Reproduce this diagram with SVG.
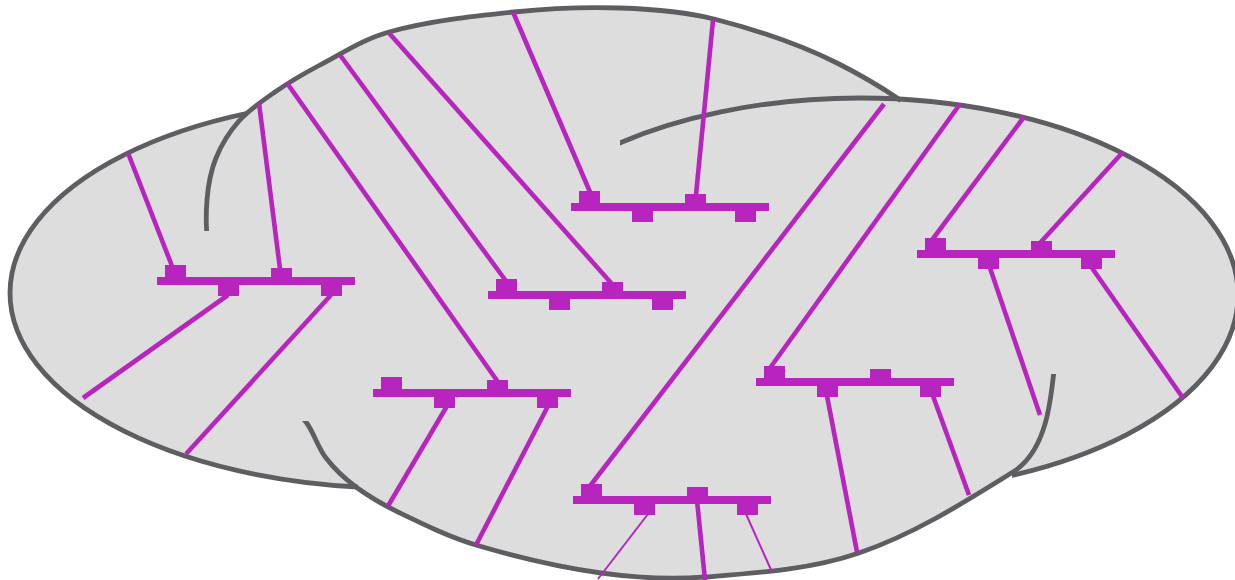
<svg xmlns="http://www.w3.org/2000/svg" xmlns:xlink="http://www.w3.org/1999/xlink" width="1235" height="580" viewBox="0 0 1235 580">
<style>
.area{fill:#dddddd;stroke:none}
.outline{fill:none;stroke:#5e5d62;stroke-width:4.8}
.wire{fill:none;stroke:#b725be;stroke-width:4.6;stroke-linecap:butt}
.thin{stroke-width:2}
.bus{fill:#b725be;stroke:none}
</style>
<defs>
<path id="shapeM" d="M207,200 C208.1,185.7 210.6,171.3 216,158 C221.5,144.5 229.3,131.8 239,121 C249.3,109.5 262.3,100.8 275,92 C289.4,82 304.5,73.2 320,65 C342.6,53.1 364.4,38.7 389,32 C429.7,20.9 472,16.3 514,12 C549.2,8.4 584.6,6.8 620,8 C651.5,9.1 683.5,11.3 714,19 C756.2,29.7 798.1,43.5 837,63 C875.7,82.4 912.7,106.2 945,135 C979.3,165.7 1014.8,198.6 1035,240 C1052.8,276.5 1058.8,319.6 1055,360 C1051.3,399.7 1046.9,450.9 1013,472 C963.7,502.7 913.9,534.3 859,553 C809.8,569.8 756.8,573 705,577 C670.4,579.7 635.4,577.8 601,573 C558.7,567.1 516.9,557.2 476,545 C449.7,537.1 424.8,525 400,513 C384.7,505.6 369.7,497.1 356,487 C344.8,478.7 334.5,469 326,458 C317.6,447.1 314.2,433 306,422 C294.7,406.8 279.3,395.2 268,380 C253.9,361 239.8,341.6 230,320 C219.9,297.8 213.6,274 209,250 C205.9,233.6 205.7,216.6 207,200 Z"/>
<ellipse id="shapeL" cx="398" cy="293" rx="388" ry="195"/>
<ellipse id="shapeR" cx="860" cy="295" rx="378" ry="197"/>
<clipPath id="clipL"><path d="M-5 -5H248V300H358V590H-5Z"/></clipPath>
<clipPath id="clipM"><path clip-rule="evenodd" d="M-10 -10H1250V590H-10Z M900 -5H1245V374H900Z M-5 231H330V421H-5Z"/></clipPath>
<clipPath id="clipR"><path d="M620 -5H1245V150H620Z M1012 150H1245V590H1012Z"/></clipPath>
<g id="bus-shape">
<rect x="0" y="0" width="198" height="8"/>
<rect x="8" y="-12" width="21" height="12"/>
<rect x="114" y="-9" width="21" height="9"/>
<rect x="61" y="8" width="21" height="11"/>
<rect x="164" y="8" width="21" height="11"/>
</g>
</defs>
<g id="cloud">
<use xlink:href="#shapeL" href="#shapeL" class="area"/>
<use xlink:href="#shapeM" href="#shapeM" class="area"/>
<use xlink:href="#shapeR" href="#shapeR" class="area"/>
<use xlink:href="#shapeL" href="#shapeL" class="outline" clip-path="url(#clipL)"/>
<use xlink:href="#shapeM" href="#shapeM" class="outline" clip-path="url(#clipM)"/>
<use xlink:href="#shapeR" href="#shapeR" class="outline" clip-path="url(#clipR)"/>
</g>
<g id="connectors">
<line class="wire" x1="172" y1="266" x2="128" y2="153"/>
<line class="wire" x1="280" y1="269" x2="259" y2="103"/>
<line class="wire" x1="228" y1="295" x2="83" y2="398"/>
<line class="wire" x1="331" y1="295" x2="186" y2="454"/>
<line class="wire" x1="590" y1="192" x2="513" y2="12"/>
<line class="wire" x1="696" y1="195" x2="713" y2="20"/>
<line class="wire" x1="506" y1="281" x2="340" y2="55"/>
<line class="wire" x1="612" y1="284" x2="389" y2="33"/>
<line class="wire" x1="498" y1="382" x2="287" y2="83"/>
<line class="wire" x1="447" y1="406" x2="388" y2="506"/>
<line class="wire" x1="548" y1="406" x2="476" y2="545"/>
<line class="wire" x1="932" y1="240" x2="1024" y2="117"/>
<line class="wire" x1="1040" y1="243" x2="1123" y2="152"/>
<line class="wire" x1="990" y1="268" x2="1040" y2="415"/>
<line class="wire" x1="1092" y1="268" x2="1183" y2="398"/>
<line class="wire" x1="770" y1="368" x2="960" y2="104"/>
<line class="wire" x1="827" y1="396" x2="857" y2="552"/>
<line class="wire" x1="933" y1="396" x2="969" y2="495"/>
<line class="wire" x1="590" y1="486" x2="884" y2="104"/>
<line class="wire" x1="696" y1="490" x2="705" y2="580"/>
<line class="wire thin" x1="648" y1="514" x2="598" y2="579"/>
<line class="wire thin" x1="746" y1="514" x2="772" y2="572"/>
</g>
<g id="bus-a" class="bus"><use xlink:href="#bus-shape" href="#bus-shape" transform="translate(157,277)"/></g>
<g id="bus-b" class="bus"><use xlink:href="#bus-shape" href="#bus-shape" transform="translate(571,203)"/></g>
<g id="bus-c" class="bus"><use xlink:href="#bus-shape" href="#bus-shape" transform="translate(488,291)"/></g>
<g id="bus-d" class="bus"><use xlink:href="#bus-shape" href="#bus-shape" transform="translate(373,389)"/></g>
<g id="bus-e" class="bus"><use xlink:href="#bus-shape" href="#bus-shape" transform="translate(917,250)"/></g>
<g id="bus-f" class="bus"><use xlink:href="#bus-shape" href="#bus-shape" transform="translate(756,378)"/></g>
<g id="bus-g" class="bus"><use xlink:href="#bus-shape" href="#bus-shape" transform="translate(573,496)"/></g>
</svg>
